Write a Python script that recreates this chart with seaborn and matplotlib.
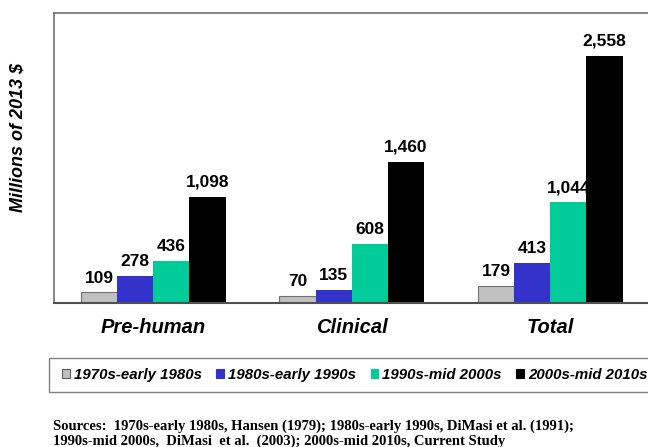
import matplotlib
matplotlib.use("Agg")
import matplotlib.pyplot as plt
import seaborn as sns
import pandas as pd

# data
stages = ["Pre-human", "Clinical", "Total"]
periods = ["1970s-early 1980s", "1980s-early 1990s", "1990s-mid 2000s", "2000s-mid 2010s"]
cost_1970s = [109, 70, 179]
cost_1980s = [278, 135, 413]
cost_1990s = [436, 608, 1044]
cost_2000s = [1098, 1460, 2558]
colors = ["#c0c0c0", "#3333cc", "#00cc99", "#000000"]

rows = []
for period, vals in zip(periods, [cost_1970s, cost_1980s, cost_1990s, cost_2000s]):
    for stage, v in zip(stages, vals):
        rows.append({"stage": stage, "period": period, "cost": v})
df = pd.DataFrame(rows)

sns.set_theme(style="white")
plt.rcParams["font.family"] = ["Liberation Sans", "DejaVu Sans"]
plt.rcParams["text.color"] = "black"
plt.rcParams["xtick.color"] = "black"

W, H = 648, 447
fig = plt.figure(figsize=(W / 100, H / 100), dpi=100)
ax = fig.add_axes([54 / W, 1 - 303 / H, 595.5 / W, 290 / H])

sns.barplot(data=df, x="stage", y="cost", hue="period", order=stages,
            hue_order=periods, palette=colors, width=0.73, saturation=1,
            edgecolor="none", ax=ax, legend=False)

# gray bars have a darker outline
for p in ax.containers[0]:
    p.set_edgecolor("#707070")
    p.set_linewidth(0.8)

for cont in ax.containers:
    ax.bar_label(cont, labels=[f"{v:,.0f}" for v in cont.datavalues], padding=5,
                 fontsize=12.5, fontweight="bold", color="black")

ax.set_xlim(-0.5, 2.5)
ax.set_ylim(0, 3000)
ax.set_yticks([])
ax.set_xlabel("")
ax.set_ylabel("")
ax.tick_params(axis="x", length=0, pad=11, labelcolor="black")
for lab in ax.get_xticklabels():
    lab.set_fontsize(14.5)
    lab.set_fontweight("bold")
    lab.set_fontstyle("italic")

for side in ["top", "left", "right"]:
    ax.spines[side].set_color("#707070")
    ax.spines[side].set_linewidth(1.2)
ax.spines["bottom"].set_color("#505050")
ax.spines["bottom"].set_linewidth(1.5)

fig.text(18 / W, 1 - 138 / H, "Millions of 2013 $", rotation=90, ha="center",
         va="center", fontsize=13, fontweight="bold", fontstyle="italic")

# legend box along the bottom, running off the right edge
box = plt.Rectangle((49 / W, 1 - 392 / H), 620 / W, 34 / H, transform=fig.transFigure,
                    facecolor="white", edgecolor="#808080", linewidth=1.0)
fig.add_artist(box)
handles = [plt.Rectangle((0, 0), 1, 1, facecolor=c,
                         edgecolor="#606060" if i == 0 else c, linewidth=0.8)
           for i, c in enumerate(colors)]
leg = fig.legend(handles, periods, loc="center left", ncol=4,
                 bbox_to_anchor=(62 / W, 1 - 375 / H), frameon=False,
                 handlelength=0.5, handleheight=0.5, handletextpad=0.3,
                 columnspacing=0.95, borderpad=0, borderaxespad=0,
                 prop={"size": 10.8, "weight": "bold", "style": "italic"})

src_font = {"fontsize": 10.5, "fontweight": "bold", "fontfamily": "Liberation Serif"}
fig.text(53 / W, 1 - 426 / H,
         "Sources:  1970s-early 1980s, Hansen (1979); 1980s-early 1990s, DiMasi et al. (1991);",
         ha="left", va="center", **src_font)
fig.text(53 / W, 1 - 441 / H,
         "1990s-mid 2000s,  DiMasi  et al.  (2003); 2000s-mid 2010s, Current Study",
         ha="left", va="center", **src_font)

fig.savefig("out.png", dpi=100)
